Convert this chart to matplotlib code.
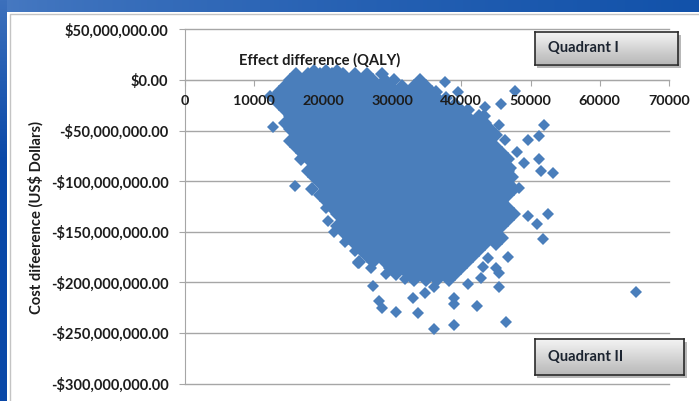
import numpy as np
import matplotlib
matplotlib.use("Agg")
import matplotlib.pyplot as plt
from matplotlib.patches import Rectangle
from matplotlib.ticker import FuncFormatter

# -----------------------------
# Data (effect in thousand QALY, cost in million dollars)
# -----------------------------
cloud_rows = [
    (9, [18.7, 20.4, 22.1]),
    (6, [16.15, 17.85, 19.55, 21.25, 22.95, 24.65, 26.35, 28.6]),
    (0, [15.3, 17.0, 18.7, 20.4, 22.1, 23.8, 25.5, 27.2, 28.9, 30.2, 34.0]),
    (-6, [14.45, 16.15, 17.85, 19.55, 21.25, 22.95, 24.65, 26.35, 28.05, 29.75, 31.45, 33.15, 34.85]),
    (-12, [13.6, 15.3, 17.0, 18.7, 20.4, 22.1, 23.8, 25.5, 27.2, 28.9, 30.6, 32.3, 34.0, 35.7, 36.4]),
    (-18, [12.9, 14.45, 16.15, 17.85, 19.55, 21.25, 22.95, 24.65, 26.35, 28.05, 29.75, 31.45, 33.15, 34.85, 36.55, 37.8]),
    (-24, [13.6, 15.3, 17.0, 18.7, 20.4, 22.1, 23.8, 25.5, 27.2, 28.9, 30.6, 32.3, 34.0, 35.7, 37.4, 39.1]),
    (-30, [14.45, 16.15, 17.85, 19.55, 21.25, 22.95, 24.65, 26.35, 28.05, 29.75, 31.45, 33.15, 34.85, 36.55, 38.25, 39.95, 41.0]),
    (-36, [15.3, 17.0, 18.7, 20.4, 22.1, 23.8, 25.5, 27.2, 28.9, 30.6, 32.3, 34.0, 35.7, 37.4, 39.1, 40.8, 42.5, 43.2]),
    (-42, [14.45, 16.15, 17.85, 19.55, 21.25, 22.95, 24.65, 26.35, 28.05, 29.75, 31.45, 33.15, 34.85, 36.55, 38.25, 39.95, 41.65, 43.35]),
    (-48, [15.3, 17.0, 18.7, 20.4, 22.1, 23.8, 25.5, 27.2, 28.9, 30.6, 32.3, 34.0, 35.7, 37.4, 39.1, 40.8, 42.5, 44.2]),
    (-54, [16.15, 17.85, 19.55, 21.25, 22.95, 24.65, 26.35, 28.05, 29.75, 31.45, 33.15, 34.85, 36.55, 38.25, 39.95, 41.65, 43.35, 45.05]),
    (-60, [15.3, 17.0, 18.7, 20.4, 22.1, 23.8, 25.5, 27.2, 28.9, 30.6, 32.3, 34.0, 35.7, 37.4, 39.1, 40.8, 42.5, 44.2]),
    (-66, [16.15, 17.85, 19.55, 21.25, 22.95, 24.65, 26.35, 28.05, 29.75, 31.45, 33.15, 34.85, 36.55, 38.25, 39.95, 41.65, 43.35, 45.05]),
    (-72, [17.0, 18.7, 20.4, 22.1, 23.8, 25.5, 27.2, 28.9, 30.6, 32.3, 34.0, 35.7, 37.4, 39.1, 40.8, 42.5, 44.2, 45.9]),
    (-78, [16.9, 17.85, 19.55, 21.25, 22.95, 24.65, 26.35, 28.05, 29.75, 31.45, 33.15, 34.85, 36.55, 38.25, 39.95, 41.65, 43.35, 45.05, 46.75]),
    (-84, [18.7, 20.4, 22.1, 23.8, 25.5, 27.2, 28.9, 30.6, 32.3, 34.0, 35.7, 37.4, 39.1, 40.8, 42.5, 44.2, 45.9]),
    (-90, [17.85, 19.55, 21.25, 22.95, 24.65, 26.35, 28.05, 29.75, 31.45, 33.15, 34.85, 36.55, 38.25, 39.95, 41.65, 43.35, 45.05, 46.75]),
    (-96, [18.7, 20.4, 22.1, 23.8, 25.5, 27.2, 28.9, 30.6, 32.3, 34.0, 35.7, 37.4, 39.1, 40.8, 42.5, 44.2, 45.9, 47.3]),
    (-102, [19.55, 21.25, 22.95, 24.65, 26.35, 28.05, 29.75, 31.45, 33.15, 34.85, 36.55, 38.25, 39.95, 41.65, 43.35, 45.05, 46.75]),
    (-108, [18.4, 20.4, 22.1, 23.8, 25.5, 27.2, 28.9, 30.6, 32.3, 34.0, 35.7, 37.4, 39.1, 40.8, 42.5, 44.2, 45.9, 47.6]),
    (-114, [19.55, 21.25, 22.95, 24.65, 26.35, 28.05, 29.75, 31.45, 33.15, 34.85, 36.55, 38.25, 39.95, 41.65, 43.35, 45.05, 46.75]),
    (-120, [20.4, 22.1, 23.8, 25.5, 27.2, 28.9, 30.6, 32.3, 34.0, 35.7, 37.4, 39.1, 40.8, 42.5, 44.2, 45.9]),
    (-126, [21.25, 22.95, 24.65, 26.35, 28.05, 29.75, 31.45, 33.15, 34.85, 36.55, 38.25, 39.95, 41.65, 43.35, 45.05, 46.75]),
    (-132, [22.1, 23.8, 25.5, 27.2, 28.9, 30.6, 32.3, 34.0, 35.7, 37.4, 39.1, 40.8, 42.5, 44.2, 45.9, 47.6]),
    (-138, [22.95, 24.65, 26.35, 28.05, 29.75, 31.45, 33.15, 34.85, 36.55, 38.25, 39.95, 41.65, 43.35, 45.05, 46.75]),
    (-144, [22.1, 23.8, 25.5, 27.2, 28.9, 30.6, 32.3, 34.0, 35.7, 37.4, 39.1, 40.8, 42.5, 44.2, 45.9]),
    (-150, [22.95, 24.65, 26.35, 28.05, 29.75, 31.45, 33.15, 34.85, 36.55, 38.25, 39.95, 41.65, 43.35, 45.05]),
    (-156, [23.8, 25.5, 27.2, 28.9, 30.6, 32.3, 34.0, 35.7, 37.4, 39.1, 40.8, 42.5, 44.2, 45.9]),
    (-162, [24.65, 26.35, 28.05, 29.75, 31.45, 33.15, 34.85, 36.55, 38.25, 39.95, 41.65, 43.35, 45.05]),
    (-168, [25.5, 27.2, 28.9, 30.6, 32.3, 34.0, 35.7, 37.4, 39.1, 40.8, 42.5]),
    (-174, [26.35, 28.05, 29.75, 31.45, 33.15, 34.85, 36.55, 38.25, 39.95, 41.65]),
    (-180, [25.2, 27.2, 28.9, 30.6, 32.3, 34.0, 35.7, 37.4, 39.1, 40.8]),
    (-186, [29.75, 31.45, 33.15, 34.85, 36.55, 38.25, 39.95]),
    (-192, [30.6, 32.3, 34.0, 35.7, 37.4, 39.1]),
    (-198, [33.15, 34.85, 36.55, 38.25]),
]

outlier_effect = [37.7, 39.5, 47.8, 45.7, 43.4, 52.0, 51.15, 49.7, 46.25, 45.5, 48.1, 51.15, 49.0, 47.2,
                  51.5, 53.3, 48.4, 52.5, 51.0, 49.6, 51.8, 46.7, 43.8, 45.0, 45.5, 42.9, 43.1, 45.4,
                  65.3, 42.2, 39.0, 39.0, 39.0, 46.4, 36.0, 33.8, 30.5, 28.5, 28.1, 33.0, 34.7, 36.1,
                  27.3, 29.1, 27.0, 40.9, 31.8, 16.0, 12.3, 12.8, 20.5, 20.7, 21.6, 23.2, 25.0, 24.6]
outlier_cost = [-2, -11.5, -10.5, -24, -27, -44.5, -55.5, -59, -59.5, -44.5, -71, -78, -82, -87,
                -90, -92, -107, -132, -142, -134, -157, -175, -176, -186, -191, -196, -185, -205,
                -210, -223, -215, -221, -242, -239, -246, -230, -229, -225, -218, -215, -211, -205,
                -204, -192, -186, -202, -197, -105, -16, -46, -126, -139, -150, -160, -181, -169]

x_ticks = [0, 10000, 20000, 30000, 40000, 50000, 60000, 70000]
y_ticks = [50, 0, -50, -100, -150, -200, -250, -300]

x_label = "Effect difference (QALY)"
y_label = "Cost difeerence (US$ Dollars)"
box_labels = ["Quadrant I", "Quadrant II"]

cloud_effect = []
cloud_cost = []
for row_cost, row_effects in cloud_rows:
    for value in row_effects:
        cloud_effect.append(value * 1000)
        cloud_cost.append(row_cost * 1e6)

# -----------------------------
# Figure and slide background
# -----------------------------
W, H = 699, 401
plt.rcParams["font.family"] = ["Lato", "DejaVu Sans"]
fig = plt.figure(figsize=(W / 100, H / 100), dpi=100, facecolor="white")
text_color = "#1c1c1c"


def px_axes(left, top, right, bottom, **kw):
    return fig.add_axes([left / W, 1 - bottom / H, (right - left) / W, (bottom - top) / H], **kw)


bg = px_axes(0, 0, W, H)
bg.axis("off")
start = np.array([0x48, 0x7a, 0xc2]) / 255
end = np.array([0x12, 0x52, 0xaa]) / 255
t = np.linspace(0, 1, 256).reshape(1, -1, 1) ** 0.7
bg.imshow(start + (end - start) * t, extent=[0, W, H, 0], aspect="auto", zorder=0)
t = np.clip(np.linspace(0, 1, 256) * 2.5, 0, 1).reshape(-1, 1, 1)
left_start = np.array([0x3c, 0x70, 0xbc]) / 255
left_end = np.array([0x0a, 0x48, 0xa8]) / 255
bg.imshow(left_start + (left_end - left_start) * t, extent=[0, 7, H, 0], aspect="auto", zorder=1)
bg.add_patch(Rectangle((7, 11.5), W, H, color="white", zorder=2, lw=0))
bg.plot([10, 10, W], [H, 13.5, 13.5], color="#c4c4c4", lw=1, zorder=3)
bg.set_xlim(0, W)
bg.set_ylim(H, 0)

# -----------------------------
# Scatter
# -----------------------------
ax = px_axes(184.5, 29.5, 669, 383.5)
ax.patch.set_alpha(0)
# the solid mass needs slightly bigger diamonds so no white shows between them
cloud_line, = ax.plot(cloud_effect, cloud_cost, linestyle="none", marker="D", markersize=7.4, color="#4a7ebb",
                      markeredgewidth=0, zorder=3, clip_on=False)
cloud_line.set_snap(False)
outlier_line, = ax.plot([e * 1000 for e in outlier_effect], [c * 1e6 for c in outlier_cost], linestyle="none",
                        marker="D", markersize=6.4, color="#4a7ebb", markeredgewidth=0, zorder=3, clip_on=False)
outlier_line.set_snap(False)

ax.set_xlim(0, 70000)
ax.set_ylim(-300e6, 50e6)
ax.set_xticks(x_ticks)
ax.set_yticks([v * 1e6 for v in y_ticks])


def money(v, pos):
    sign = "-" if v < 0 else ""
    return f"{sign}${abs(v):,.2f}"


ax.yaxis.set_major_formatter(FuncFormatter(money))
ax.grid(axis="y", color="#a6a6a6", lw=1.0, zorder=1)
for line in ax.get_ygridlines():
    line.set_clip_on(False)
for side in ["top", "right"]:
    ax.spines[side].set_visible(False)
ax.spines["left"].set_color("#a6a6a6")
ax.spines["bottom"].set_position(("data", 0))
ax.spines["bottom"].set_color("#a6a6a6")
ax.tick_params(axis="y", length=4.5, color="#a6a6a6", pad=7, labelsize=10.5, labelcolor=text_color)
ax.tick_params(axis="x", length=4, color="#a6a6a6", labelbottom=False)
for lab in ax.get_yticklabels():
    lab.set_fontweight("bold")
ax.set_axisbelow(True)

# x tick labels sit on top of the points
for v in x_ticks:
    ax.annotate(str(v), xy=(v, 0), xytext=(0, -15.2), textcoords="offset points", ha="center", va="center",
                fontsize=10.4, fontweight="bold", color=text_color, zorder=6)

ax.annotate(x_label, xy=(320 / W, 1 - 60 / H), xycoords="figure fraction", ha="center", va="center",
            fontsize=10.6, fontweight="bold", color=text_color, zorder=6)
fig.text(36 / W, 1 - 218 / H, y_label, ha="center", va="center", rotation=90, fontsize=10.6,
         fontweight="bold", color=text_color)

# -----------------------------
# Quadrant boxes
# -----------------------------
boxes = [(534.5, 32, 677.5, 64.5), (534.5, 338.5, 683.5, 375)]
shade = np.linspace(0.96, 0.72, 64).reshape(-1, 1)
for (left, top, right, bottom), label in zip(boxes, box_labels):
    under = px_axes(left + 2, top + 3, right + 3, bottom + 3)
    under.axis("off")
    under.add_patch(Rectangle((0, 0), 1, 1, transform=under.transAxes, color="#8a8a8a", alpha=0.6, lw=0))
    under.set_zorder(6)
    box = px_axes(left, top, right, bottom)
    box.imshow(shade, cmap="gray", vmin=0, vmax=1, aspect="auto")
    box.set_xticks([])
    box.set_yticks([])
    for spine in box.spines.values():
        spine.set_color("#2b2b2b")
        spine.set_linewidth(1.2)
    box.set_zorder(7)
    box.text(13 / (right - left), 0.5, label, transform=box.transAxes, ha="left", va="center",
             fontsize=10.6, fontweight="bold", color="#1c2430")

plt.savefig("out.png", dpi=100)
